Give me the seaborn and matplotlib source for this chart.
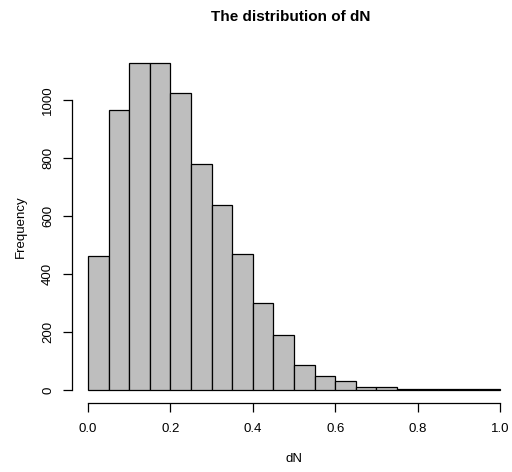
import numpy as np
import matplotlib
matplotlib.use("Agg")
import matplotlib.pyplot as plt
import seaborn as sns

bin_edges = [0.0, 0.05, 0.10, 0.15, 0.20, 0.25, 0.30, 0.35, 0.40, 0.45, 0.50,
             0.55, 0.60, 0.65, 0.70, 0.75, 0.80, 0.85, 0.90, 0.95, 1.0]
counts = [463, 966, 1127, 1127, 1025, 779, 638, 469, 301, 189,
          87, 49, 31, 9, 10, 3, 3, 4, 4, 2]
x_ticks = [0.0, 0.2, 0.4, 0.6, 0.8, 1.0]
y_ticks = [0, 200, 400, 600, 800, 1000]

centers = [(a + b) / 2 for a, b in zip(bin_edges[:-1], bin_edges[1:])]

sns.set_style("white")
plt.rcParams['font.family'] = ['Liberation Sans', 'DejaVu Sans']
plt.rcParams['text.color'] = 'black'
plt.rcParams['axes.labelcolor'] = 'black'
plt.rcParams['xtick.color'] = 'black'
plt.rcParams['ytick.color'] = 'black'

fig = plt.figure(figsize=(5.12, 4.72), dpi=100)
ax = fig.add_axes([71.5 / 512, 69 / 472, 445 / 512, 353 / 472])

sns.histplot(x=centers, weights=counts, bins=bin_edges, color="#BEBEBE",
             edgecolor="black", linewidth=0.9, alpha=1, ax=ax)

ymax = max(counts)
ax.set_xlim(-0.04, 1.04)
ax.set_ylim(-0.04 * ymax, 1.04 * ymax)

for s in ["top", "right"]:
    ax.spines[s].set_visible(False)
ax.spines["left"].set_bounds(0, 1000)
ax.spines["bottom"].set_bounds(0, 1.0)
for s in ["left", "bottom"]:
    ax.spines[s].set_color("black")
    ax.spines[s].set_linewidth(0.9)

ax.set_xticks(x_ticks)
ax.set_xticklabels([f"{v:.1f}" for v in x_ticks])
ax.set_yticks(y_ticks)
ax.set_yticklabels([str(v) for v in y_ticks], rotation=90, va="center")
ax.tick_params(axis="both", direction="out", length=6.5, width=0.9,
               color="black", labelsize=9.5, left=True, bottom=True)
ax.tick_params(axis="x", pad=8)
ax.tick_params(axis="y", pad=6)

ax.set_xlabel("dN", fontsize=9.5, labelpad=13)
ax.set_ylabel("Frequency", fontsize=9.5, labelpad=11)
fig.text(291 / 512, 1 - 17 / 472, "The distribution of dN",
         ha="center", va="center", fontsize=11, fontweight="bold")

fig.savefig("out.png", dpi=100)
